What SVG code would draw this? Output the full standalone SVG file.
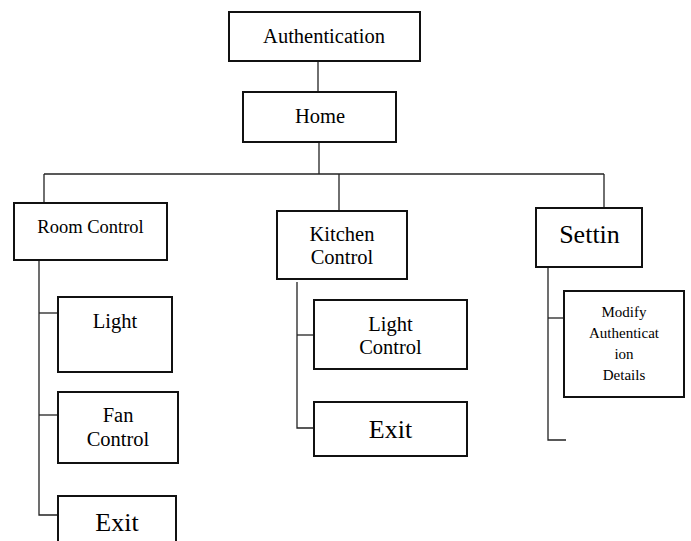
<svg xmlns="http://www.w3.org/2000/svg" width="691" height="541" viewBox="0 0 691 541">
  <style>
    .box { fill: #ffffff; stroke: #111111; stroke-width: 2; }
    .link { fill: none; stroke: #222222; stroke-width: 1.3; }
    text { font-family: "Liberation Serif", "Times New Roman", serif; fill: #000000; text-anchor: middle; }
    .t20 { font-size: 20.5px; }
    .t18 { font-size: 18.5px; }
    .t26 { font-size: 26px; }
    .t15 { font-size: 15px; }
  </style>
  <rect x="0" y="0" width="691" height="541" fill="#ffffff"/>

  <!-- connectors -->
  <g id="connectors">
    <path class="link" d="M318 61 V92"/>
    <path class="link" d="M319 142 V174"/>
    <path class="link" d="M44 174 H604"/>
    <path class="link" d="M44 174 V204"/>
    <path class="link" d="M339 174 V211"/>
    <path class="link" d="M604 174 V208"/>
    <!-- room control branches -->
    <path class="link" d="M39 260 V515 H58"/>
    <path class="link" d="M39 313 H58"/>
    <path class="link" d="M39 415 H58"/>
    <!-- kitchen control branches -->
    <path class="link" d="M297 282 V428 H314"/>
    <path class="link" d="M297 335 H314"/>
    <!-- settings branches -->
    <path class="link" d="M548 267 V440 H566"/>
    <path class="link" d="M548 318 H564"/>
  </g>

  <g id="authentication">
    <rect class="box" x="229" y="12" width="191" height="49"/>
    <text class="t20" x="324" y="43">Authentication</text>
  </g>

  <g id="home">
    <rect class="box" x="243" y="92" width="153" height="50"/>
    <text class="t20" x="320" y="123">Home</text>
  </g>

  <g id="room-control">
    <rect class="box" x="14" y="203" width="153" height="57"/>
    <text class="t18" x="90.5" y="233">Room Control</text>
  </g>

  <g id="kitchen-control">
    <rect class="box" x="277" y="211" width="130" height="68"/>
    <text class="t20" x="342" y="241">Kitchen</text>
    <text class="t20" x="342" y="264">Control</text>
  </g>

  <g id="settings">
    <rect class="box" x="536" y="208" width="106" height="59"/>
    <text class="t26" x="589.5" y="243">Settin</text>
  </g>

  <g id="room-light">
    <rect class="box" x="58" y="297" width="114" height="75"/>
    <text class="t20" x="115" y="328">Light</text>
  </g>

  <g id="room-fan-control">
    <rect class="box" x="58" y="392" width="120" height="71"/>
    <text class="t20" x="118" y="422">Fan</text>
    <text class="t20" x="118" y="446">Control</text>
  </g>

  <g id="room-exit">
    <rect class="box" x="58" y="496" width="118" height="60"/>
    <text class="t26" x="117" y="531">Exit</text>
  </g>

  <g id="kitchen-light-control">
    <rect class="box" x="314" y="300" width="153" height="69"/>
    <text class="t20" x="390.5" y="331">Light</text>
    <text class="t20" x="390.5" y="354">Control</text>
  </g>

  <g id="kitchen-exit">
    <rect class="box" x="314" y="402" width="153" height="54"/>
    <text class="t26" x="390.5" y="438">Exit</text>
  </g>

  <g id="modify-authentication">
    <rect class="box" x="564" y="291" width="120" height="106"/>
    <text class="t15" x="624" y="317">Modify</text>
    <text class="t15" x="624" y="338">Authenticat</text>
    <text class="t15" x="624" y="359">ion</text>
    <text class="t15" x="624" y="380">Details</text>
  </g>
</svg>
